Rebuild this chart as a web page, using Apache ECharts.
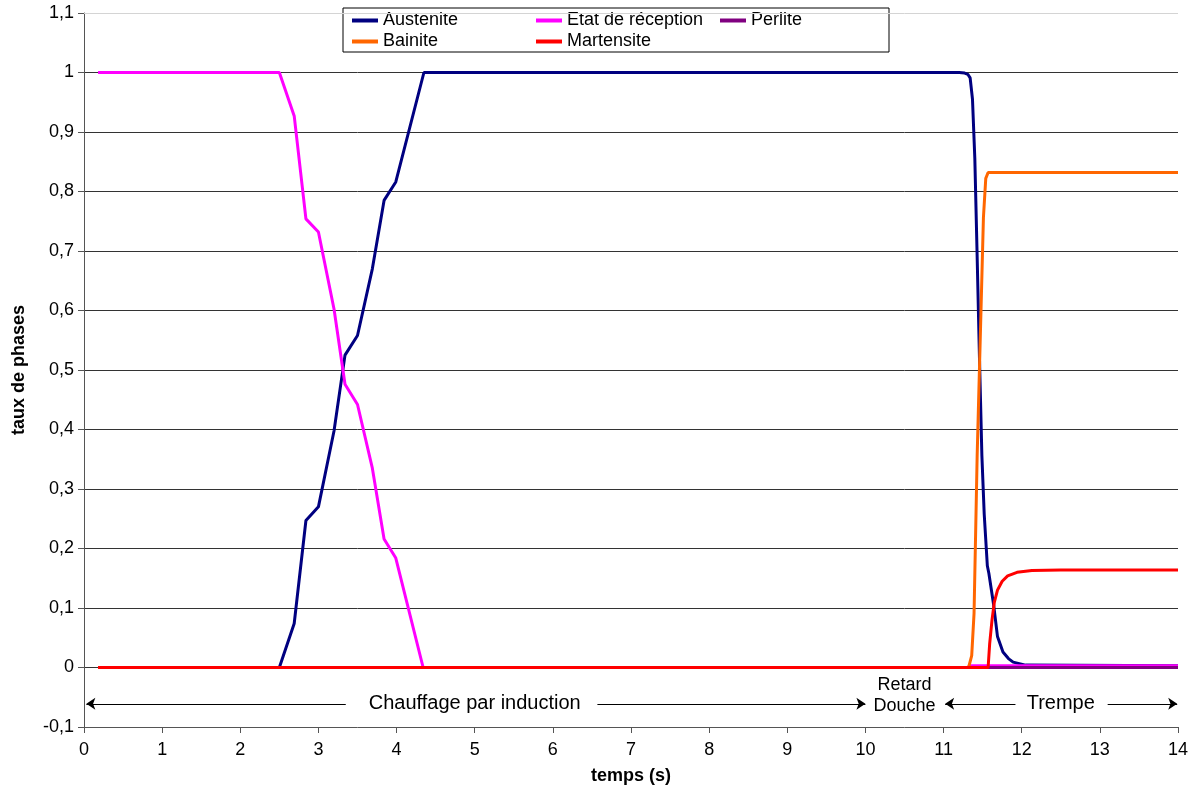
<!DOCTYPE html>
<html>
<head>
<meta charset="utf-8">
<script src="https://cdn.jsdelivr.net/npm/echarts@6/dist/echarts.min.js"></script>
<style>
html,body{margin:0;padding:0;background:#fff;}
#chart{width:1195px;height:787px;}
</style>
</head>
<body>
<div id="chart"></div>
<script>
// ---- data (time in s, phase fraction) ----
const seriesNames = ['Austenite', 'Etat de réception', 'Perlite', 'Bainite', 'Martensite'];
const seriesColors = ['#000080', '#FF00FF', '#800080', '#FF6600', '#FF0000'];

const austenite = [[0.18,0],[2.5,0],[2.69,0.074],[2.84,0.247],[3.0,0.270],[3.2,0.398],[3.34,0.525],[3.5,0.558],[3.69,0.670],[3.84,0.785],[3.99,0.816],[4.35,1],[11.2,1],[11.27,0.999],[11.31,0.997],[11.34,0.991],[11.37,0.955],[11.40,0.855],[11.43,0.689],[11.46,0.517],[11.49,0.357],[11.52,0.258],[11.56,0.171],[11.58,0.158],[11.64,0.106],[11.69,0.052],[11.76,0.026],[11.83,0.015],[11.89,0.009],[12.05,0.004],[14,0.003]];
const etatReception = [[0.18,1],[2.5,1],[2.69,0.927],[2.84,0.754],[3.0,0.732],[3.2,0.602],[3.34,0.476],[3.5,0.442],[3.69,0.335],[3.84,0.216],[3.99,0.184],[4.34,0],[11.3,0],[11.35,0.003],[14,0.003]];
const perlite = [[0.18,0],[14,0]];
const bainite = [[0.18,0],[11.32,0],[11.36,0.02],[11.39,0.091],[11.43,0.357],[11.47,0.556],[11.51,0.756],[11.54,0.822],[11.57,0.832],[14,0.832]];
const martensite = [[0.18,0],[11.57,0],[11.59,0.04],[11.62,0.08],[11.65,0.11],[11.69,0.13],[11.75,0.145],[11.82,0.154],[11.94,0.16],[12.13,0.163],[12.5,0.164],[14,0.164]];

const xTicks = {min: 0, max: 14, interval: 1};
const yTicks = {min: -0.1, max: 1.1, interval: 0.1};

// process phases: bounds in seconds and labels
const phaseBounds = [0, 10, 11, 14];
const phaseLabels = ['Chauffage par induction', 'Retard\nDouche', 'Trempe'];

// ---- chart ----
const FONT = '"Liberation Sans", Arial, sans-serif';
const chart = echarts.init(document.getElementById('chart'), null, {renderer: 'canvas'});
const allData = [austenite, etatReception, perlite, bainite, martensite];

const arrowY = -0.061;
const series = seriesNames.map((n, i) => ({
  name: n, type: 'line', data: allData[i], showSymbol: false, symbol: 'none',
  smooth: false, lineStyle: {width: 3, color: seriesColors[i]}, itemStyle: {color: seriesColors[i]},
  z: 2 + i * 0.01, silent: true
}));
const arrow = (from, to) => [
  {coord: [from, arrowY], symbol: 'none'},
  {coord: [to, arrowY], symbol: 'arrow'}
];
series.push({
  name: '__annot', type: 'line', data: [], silent: true,
  markLine: {
    silent: true, symbol: ['none', 'arrow'], symbolSize: 9, label: {show: false},
    lineStyle: {color: '#000', width: 1, type: 'solid'},
    emphasis: {disabled: true},
    data: [
      arrow(3.35, phaseBounds[0] + 0.03),
      arrow(6.57, phaseBounds[1]),
      arrow(11.92, phaseBounds[2] + 0.02),
      arrow(13.1, phaseBounds[3] - 0.01),
      [{coord: [xTicks.min, yTicks.max], symbol: 'none', lineStyle: {color: '#d4d4d4', width: 1}}, {coord: [xTicks.max, yTicks.max], symbol: 'none'}]
    ]
  }
});

const fmtY = v => String(Math.round(v * 10) / 10).replace('.', ',');

chart.setOption({
  animation: false,
  backgroundColor: '#fff',
  textStyle: {fontFamily: FONT},
  grid: {left: 84, right: 17, top: 13, bottom: 60, containLabel: false, outerBoundsMode: 'none'},
  legend: {
    left: 343, top: 8, width: 540,
    orient: 'horizontal',
    padding: [2, 9, 0, 9],
    borderColor: '#000', borderWidth: 1, backgroundColor: '#fff',
    itemGap: 0, itemWidth: 26, itemHeight: 4, icon: 'rect',
    selectedMode: false,
    textStyle: {fontFamily: FONT, fontSize: 18, lineHeight: 21, color: '#000', width: 153},
    data: [
      {name: seriesNames[0]},
      {name: seriesNames[1]},
      {name: seriesNames[2], textStyle: {width: 129}},
      {name: seriesNames[3]},
      {name: seriesNames[4]}
    ]
  },
  xAxis: {
    type: 'value', min: xTicks.min, max: xTicks.max, interval: xTicks.interval,
    name: 'temps (s)', nameLocation: 'middle', nameGap: 40,
    nameTextStyle: {fontFamily: FONT, fontSize: 18, fontWeight: 'bold', color: '#000'},
    axisLine: {onZero: false, lineStyle: {color: '#555', width: 1}},
    axisTick: {show: true, length: 6, lineStyle: {color: '#555'}},
    axisLabel: {fontFamily: FONT, fontSize: 18, color: '#000', margin: 14},
    splitLine: {show: false}
  },
  yAxis: {
    type: 'value', min: yTicks.min, max: yTicks.max, interval: yTicks.interval,
    name: 'taux de phases', nameLocation: 'middle', nameGap: 56,
    nameTextStyle: {fontFamily: FONT, fontSize: 18, fontWeight: 'bold', color: '#000'},
    axisLine: {show: true, onZero: false, lineStyle: {color: '#555', width: 1}},
    axisTick: {show: true, length: 6, lineStyle: {color: '#555'}},
    axisLabel: {fontFamily: FONT, fontSize: 18, color: '#000', margin: 10, formatter: fmtY},
    splitLine: {show: true, showMinLine: false, showMaxLine: false, lineStyle: {color: '#333', width: 1}}
  },
  series: series
});

// phase labels positioned from the axes
const p = (t, v) => chart.convertToPixel({gridIndex: 0}, [t, v]);
const c1 = p((phaseBounds[0] + phaseBounds[1]) / 2, arrowY);
const c2 = p((phaseBounds[1] + phaseBounds[2]) / 2, -0.047);
const c3 = p((phaseBounds[2] + phaseBounds[3]) / 2, arrowY);
chart.setOption({
  graphic: [
    {type: 'text', x: c1[0], y: c1[1], silent: true, style: {text: phaseLabels[0], font: '20px ' + FONT, fill: '#000', align: 'center', verticalAlign: 'middle'}},
    {type: 'text', x: c2[0], y: c2[1], silent: true, style: {text: phaseLabels[1], font: '18px ' + FONT, lineHeight: 21, fill: '#000', align: 'center', verticalAlign: 'middle'}},
    {type: 'text', x: c3[0], y: c3[1], silent: true, style: {text: phaseLabels[2], font: '20px ' + FONT, fill: '#000', align: 'center', verticalAlign: 'middle'}}
  ]
});
</script>
</body>
</html>
